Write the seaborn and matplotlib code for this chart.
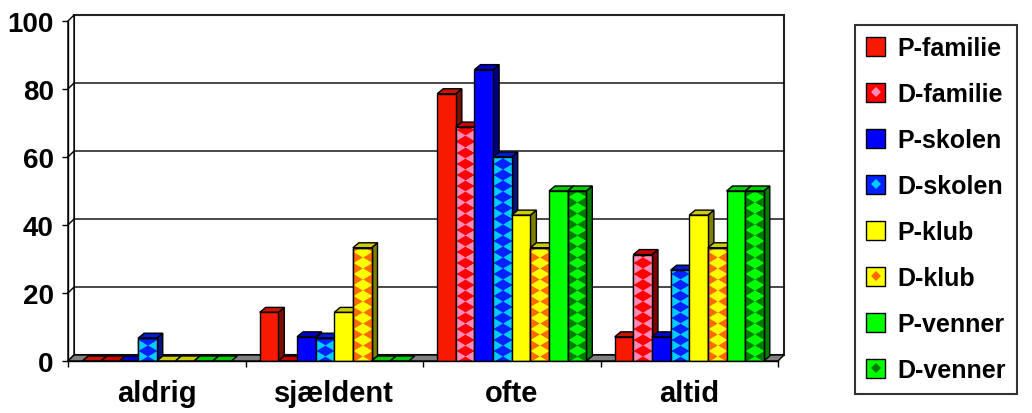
import numpy as np
import pandas as pd
import matplotlib
matplotlib.use("Agg")
import matplotlib.pyplot as plt
import matplotlib.colors as mcolors
from matplotlib.patches import Polygon, Patch
from matplotlib.lines import Line2D
from matplotlib.path import Path
from matplotlib.legend_handler import HandlerTuple
import seaborn as sns

# Data (percent)
categories = ["aldrig", "sjældent", "ofte", "altid"]
series = ["P-familie", "D-familie", "P-skolen", "D-skolen",
          "P-klub", "D-klub", "P-venner", "D-venner"]
p_familie = [0, 14.3, 78.6, 7.1]
d_familie = [0, 0, 68.8, 31.3]
p_skolen = [0, 7.1, 85.7, 7.1]
d_skolen = [6.7, 6.7, 60.0, 26.7]
p_klub = [0, 14.3, 42.9, 42.9]
d_klub = [0, 33.3, 33.3, 33.3]
p_venner = [0, 0, 50.0, 50.0]
d_venner = [0, 0, 50.0, 50.0]
yticks = [0, 20, 40, 60, 80, 100]

base_colors = ["#f81a00", "#ff0000", "#0000ff", "#0022ff",
               "#ffff00", "#ffff00", "#00ff00", "#00ff00"]
dot_colors = [None, "#ff8ab8", None, "#00ccff", None, "#ff6a00", None, "#007a00"]

values = [p_familie, d_familie, p_skolen, d_skolen, p_klub, d_klub, p_venner, d_venner]
df = pd.DataFrame({
    "kategori": np.tile(categories, len(series)),
    "serie": np.repeat(series, len(categories)),
    "procent": np.concatenate(values),
})

sns.set_theme(style="white")
plt.rcParams["font.family"] = ["Liberation Sans", "DejaVu Sans"]
plt.rcParams["font.weight"] = "bold"
plt.rcParams["text.color"] = "black"
plt.rcParams["xtick.color"] = "black"
plt.rcParams["ytick.color"] = "black"

fig = plt.figure(figsize=(10.32, 4.14), dpi=100)
ax = fig.add_axes([68 / 1032, 1 - 362 / 414, 710 / 1032, 340 / 414])

sns.barplot(df, x="kategori", y="procent", hue="serie", palette=base_colors,
            width=0.84, saturation=1, edgecolor="black", linewidth=1,
            legend=False, ax=ax)

x0, x1 = -0.5, len(categories) - 0.5
ax.set_xlim(x0, x1)
ax.set_ylim(0, 100)

# pixel -> data conversion for the fake 3D depth
kx = (x1 - x0) / 710
ky = 100 / 340
bdx, bdy = 6 * kx, 5 * ky   # bar depth
wdx, wdy = 6 * kx, 6 * ky   # wall depth

# back wall, left wall, floor
ax.add_patch(Polygon([(x0 + wdx, wdy), (x1 + wdx, wdy), (x1 + wdx, 100 + wdy), (x0 + wdx, 100 + wdy)],
                     closed=True, fc="white", ec="#222222", lw=1.5, zorder=0.1, clip_on=False))
ax.add_patch(Polygon([(x0, 0), (x0 + wdx, wdy), (x0 + wdx, 100 + wdy), (x0, 100)],
                     closed=True, fc="white", ec="black", lw=1, zorder=0.2, clip_on=False))
for v in yticks[1:-1]:
    ax.plot([x0, x0 + wdx, x1 + wdx], [v, v + wdy, v + wdy], color="black", lw=1,
            zorder=0.3, clip_on=False)
ax.add_patch(Polygon([(x0, 0), (x1, 0), (x1 + wdx, wdy), (x0 + wdx, wdy)],
                     closed=True, fc="#808080", ec="black", lw=1, zorder=0.4, clip_on=False))

# collect bars with their series index, draw left to right
bars = []
for i, cont in enumerate(ax.containers):
    for bar in cont:
        bars.append((bar.get_x(), i, bar))
bars.sort(key=lambda t: t[0])

# flat diamond marker (wider than tall) for the D-series pattern
bar_px = bars[0][2].get_width() / kx
step_px = 11
diamond = Path([(0, -step_px / 2), (bar_px / 2, 0), (0, step_px / 2), (-bar_px / 2, 0), (0, -step_px / 2)],
               [Path.MOVETO, Path.LINETO, Path.LINETO, Path.LINETO, Path.CLOSEPOLY])
ms = bar_px * 72 / 100
step = step_px * ky

for order, (bx, i, bar) in enumerate(bars):
    z = 1 + order * 0.01
    bar.set_zorder(z)
    w, h = bar.get_width(), bar.get_height()
    rgb = np.array(mcolors.to_rgb(base_colors[i]))
    top = [(bx, h), (bx + w, h), (bx + w + bdx, h + bdy), (bx + bdx, h + bdy)]
    ax.add_patch(Polygon(top, closed=True, fc=rgb * 0.8, ec="black", lw=1,
                         zorder=z - 0.002, clip_on=False))
    if h > 0:
        side = [(bx + w, 0), (bx + w + bdx, bdy), (bx + w + bdx, h + bdy), (bx + w, h)]
        ax.add_patch(Polygon(side, closed=True, fc=rgb * 0.5, ec="black", lw=1,
                             zorder=z - 0.003, clip_on=False))
    if dot_colors[i] is not None and h > 0:
        ys_e = np.arange(step / 2, h + step, step)
        xs = np.concatenate([np.full(len(ys_e), bx), np.full(len(ys_e), bx + w)])
        ys = np.concatenate([ys_e, ys_e])
        ln = ax.plot(xs, ys, ls="none", marker=diamond, ms=ms, mew=0,
                     color=dot_colors[i], zorder=z + 0.001)[0]
        ln.set_clip_path(bar)
        bar.set_zorder(z)
        # redraw the outline above the pattern
        ax.add_patch(Polygon(bar.get_corners(), closed=True, fc="none", ec="black", lw=1,
                             zorder=z + 0.002))

# axes styling
for s in ["top", "right"]:
    ax.spines[s].set_visible(False)
for s in ["left", "bottom"]:
    ax.spines[s].set_color("black")
    ax.spines[s].set_linewidth(1)
    ax.spines[s].set_zorder(5)
ax.set_yticks(yticks)
ax.set_yticklabels([str(t) for t in yticks])
ax.set_xticks(range(len(categories)))
ax.set_xticklabels(categories)
ax.set_xticks(np.arange(x0, x1 + 0.01, 1), minor=True)
ax.tick_params(axis="y", which="major", direction="out", length=4.3, width=1,
               color="black", labelsize=20, pad=6, left=True)
ax.tick_params(axis="x", which="major", length=0, labelsize=21, pad=13)
ax.tick_params(axis="x", which="minor", direction="out", length=4, width=1,
               color="black", bottom=True)
ax.set_xlabel("")
ax.set_ylabel("")
ax.grid(False)

# legend
handles = []
for i, c in enumerate(base_colors):
    sq = Patch(facecolor=c, edgecolor="black", linewidth=1)
    if dot_colors[i] is None:
        handles.append(sq)
    else:
        dm = Line2D([], [], ls="none", marker="D", ms=5.5, mew=0, color=dot_colors[i])
        handles.append((sq, dm))
leg = fig.legend(handles, series, loc="upper left",
                 bbox_to_anchor=(855 / 1032, 1 - 26 / 414),
                 handler_map={tuple: HandlerTuple(ndivide=1)},
                 fontsize=18, handlelength=0.75, handleheight=0.75,
                 handletextpad=0.5, labelspacing=0.88, borderpad=0.45,
                 borderaxespad=0, fancybox=False, framealpha=1,
                 edgecolor="#333333")
leg.get_frame().set_linewidth(1.5)

fig.savefig("out.png", dpi=100)
